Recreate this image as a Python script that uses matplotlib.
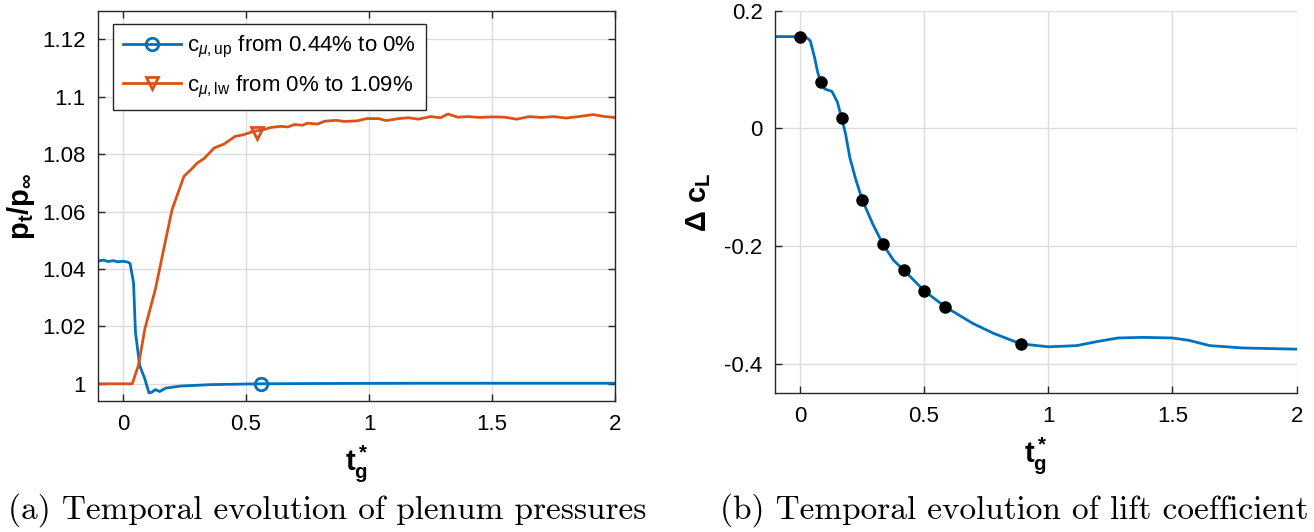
import matplotlib
matplotlib.use("Agg")
import matplotlib.pyplot as plt
from matplotlib.lines import Line2D

plt.rcParams['font.family'] = ['Liberation Sans', 'DejaVu Sans']
plt.rcParams['mathtext.fontset'] = 'custom'
plt.rcParams['mathtext.rm'] = 'Liberation Sans'
plt.rcParams['mathtext.it'] = 'Liberation Sans:italic'
plt.rcParams['mathtext.bf'] = 'Liberation Sans:bold'

# ---------------- data ----------------
# (a) plenum pressures
t_up = [-0.1, -0.08, -0.06, -0.04, -0.02, 0.0, 0.02, 0.029, 0.043, 0.051, 0.068, 0.089,
        0.106, 0.118, 0.132, 0.149, 0.174, 0.234, 0.354, 0.559, 0.8, 1.2, 1.6, 2.0]
p_up = [1.0428, 1.0431, 1.0426, 1.0429, 1.0425, 1.0427, 1.0424, 1.0419, 1.0353, 1.0179,
        1.0064, 1.0017, 0.9968, 0.9971, 0.9980, 0.9973, 0.9985, 0.9992, 0.9997, 1.0000,
        1.0001, 1.0002, 1.0002, 1.0002]
t_lw = [-0.1, 0.038, 0.063, 0.089, 0.132, 0.174, 0.2, 0.248, 0.275, 0.303, 0.33, 0.371,
        0.41, 0.456, 0.49, 0.533, 0.57, 0.6, 0.64, 0.67, 0.696, 0.73, 0.75, 0.79, 0.82,
        0.867, 0.9, 0.95, 0.99, 1.038, 1.07, 1.12, 1.16, 1.2, 1.25, 1.29, 1.32, 1.36,
        1.4, 1.45, 1.5, 1.55, 1.6, 1.65, 1.7, 1.75, 1.8, 1.85, 1.91, 1.95, 1.995]
p_lw = [1.0, 1.0, 1.0064, 1.0191, 1.033, 1.0503, 1.0608, 1.0723, 1.0745, 1.077, 1.0785,
        1.0822, 1.0835, 1.0862, 1.0868, 1.088, 1.0885, 1.0893, 1.0897, 1.0895, 1.0903,
        1.0901, 1.0908, 1.0905, 1.0915, 1.0918, 1.0914, 1.0916, 1.0924, 1.0924, 1.0917,
        1.0924, 1.0927, 1.0922, 1.0931, 1.0927, 1.0940, 1.0929, 1.0931, 1.0928, 1.0930,
        1.0929, 1.0922, 1.0931, 1.0928, 1.0931, 1.0926, 1.0931, 1.0938, 1.0932, 1.0928]
mark_up = (0.559, 1.0)
mark_lw = (0.545, 1.0875)
leg_up = r"c$_{\mu,\mathrm{up}}$ from 0.44% to 0%"
leg_lw = r"c$_{\mu,\mathrm{lw}}$ from 0% to 1.09%"

# (b) lift coefficient
t_cl = [-0.1, 0.0, 0.025, 0.042, 0.059, 0.072, 0.084, 0.1, 0.129, 0.151, 0.168, 0.184,
        0.201, 0.226, 0.251, 0.293, 0.335, 0.377, 0.419, 0.501, 0.585, 0.695, 0.779, 0.889,
        1.0, 1.114, 1.198, 1.281, 1.382, 1.499, 1.566, 1.65, 1.784, 2.0]
dcl = [0.156, 0.156, 0.155, 0.149, 0.121, 0.095, 0.0797, 0.067, 0.063, 0.045, 0.018,
       -0.009, -0.049, -0.088, -0.121, -0.162, -0.197, -0.224, -0.241, -0.276, -0.303,
       -0.331, -0.348, -0.366, -0.371, -0.369, -0.362, -0.356, -0.355, -0.356, -0.360,
       -0.369, -0.373, -0.375]
t_dots = [0.0, 0.084, 0.168, 0.251, 0.335, 0.419, 0.501, 0.585, 0.889]
dcl_dots = [0.156, 0.0797, 0.018, -0.121, -0.197, -0.241, -0.276, -0.303, -0.366]

xticks = [0, 0.5, 1, 1.5, 2]
xticklabels = ["0", "0.5", "1", "1.5", "2"]
yticks_a = [1.0, 1.02, 1.04, 1.06, 1.08, 1.1, 1.12]
yticklabels_a = ["1", "1.02", "1.04", "1.06", "1.08", "1.1", "1.12"]
yticks_b = [-0.4, -0.2, 0.0, 0.2]
yticklabels_b = ["-0.4", "-0.2", "0", "0.2"]

caption_a = "(a) Temporal evolution of plenum pressures"
caption_b = "(b) Temporal evolution of lift coefficient"

# ---------------- styling ----------------
BLUE = "#0072BD"
ORANGE = "#D95319"
AX = "#262626"
GRID = "#DCDCDC"
TICKFS = 16

W, H = 1314, 532
fig = plt.figure(figsize=(W / 100, H / 100), dpi=100)

def frac(x0, y0, x1, y1):
    return [x0 / W, 1 - y1 / H, (x1 - x0) / W, (y1 - y0) / H]

ax1 = fig.add_axes(frac(98.3, 10.7, 615.3, 401))
ax2 = fig.add_axes(frac(775, 10.7, 1296.7, 393.3))

for ax in (ax1, ax2):
    ax.grid(True, color=GRID, linewidth=1.0)
    ax.set_axisbelow(True)
    ax.set_xticks(xticks)
    ax.set_xticklabels(xticklabels)
    for s in ax.spines.values():
        s.set_color(AX)
        s.set_linewidth(1.0)
    ax.tick_params(direction='in', length=5, width=1.0, color=AX,
                   labelsize=TICKFS, labelcolor='black', pad=9)

# panel (a)
ax1.plot(t_up, p_up, color=BLUE, lw=2.0)
ax1.plot(t_lw, p_lw, color=ORANGE, lw=2.0)
ax1.plot([mark_up[0]], [mark_up[1]], 'o', ms=9, mfc='none', mec=BLUE, mew=2)
ax1.plot([mark_lw[0]], [mark_lw[1]], 'v', ms=9, mfc='none', mec=ORANGE, mew=2)
ax1.set_xlim(-0.1, 2)
ax1.set_ylim(0.994, 1.13)
ax1.set_yticks(yticks_a)
ax1.set_yticklabels(yticklabels_a)
ax1.tick_params(top=True, right=True)
ax1.set_ylabel(r"$\mathbf{p_t/p_\infty}$", fontsize=21, labelpad=4)
ax1.set_xlabel(r"$\mathbf{t^*_g}$", fontsize=21, labelpad=6)

handles = [Line2D([], [], color=BLUE, lw=2, marker='o', ms=9, mfc='none', mew=2),
           Line2D([], [], color=ORANGE, lw=2, marker='v', ms=9, mfc='none', mew=2)]
leg = ax1.legend(handles, [leg_up, leg_lw], loc='upper left',
                 bbox_to_anchor=(0.028, 0.966), borderaxespad=0, fontsize=TICKFS,
                 fancybox=False, framealpha=1, edgecolor=AX, handlelength=2.6,
                 handletextpad=0.3, borderpad=0.45, labelspacing=0.6)
leg.get_frame().set_linewidth(1.0)

# panel (b)
ax2.plot(t_cl, dcl, color=BLUE, lw=2.0)
ax2.plot(t_dots, dcl_dots, 'o', color='black', ms=8, zorder=3)
ax2.set_xlim(-0.1, 2)
ax2.set_ylim(-0.45, 0.2)
ax2.set_yticks(yticks_b)
ax2.set_yticklabels(yticklabels_b)
ax2.spines['top'].set_visible(False)
ax2.spines['right'].set_visible(False)
ax2.set_ylabel(r"$\mathbf{\Delta\ c_L}$", fontsize=21, labelpad=8)
ax2.set_xlabel(r"$\mathbf{t^*_g}$", fontsize=21, labelpad=6)

# captions
fig.text(327 / W, 1 - 510 / H, caption_a, ha='center', va='center',
         fontsize=24, family='cmr10')
fig.text(1014 / W, 1 - 510 / H, caption_b, ha='center', va='center',
         fontsize=24, family='cmr10')

fig.savefig("out.png", dpi=100)
